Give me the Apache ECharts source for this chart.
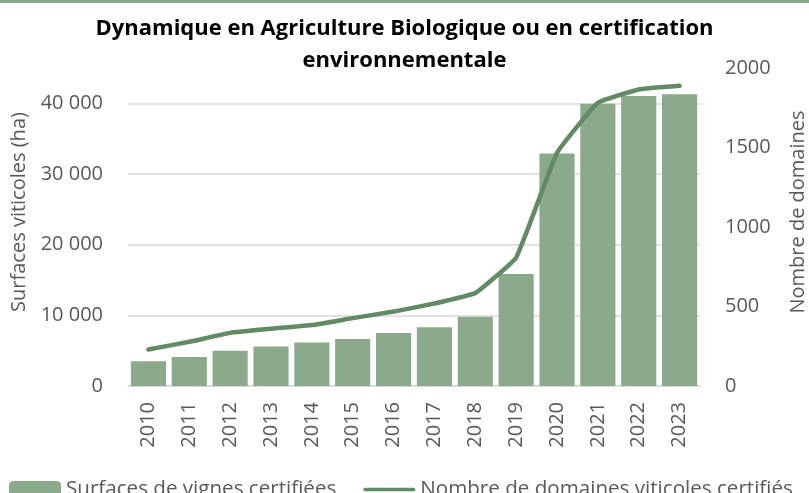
<!DOCTYPE html>
<html>
<head>
<meta charset="utf-8">
<script src="https://cdn.jsdelivr.net/npm/echarts@6/dist/echarts.min.js"></script>
<style>
html,body{margin:0;padding:0;background:#fff;}
#main{width:809px;height:493px;}
</style>
</head>
<body>
<div id="main"></div>
<script>
const years = ['2010','2011','2012','2013','2014','2015','2016','2017','2018','2019','2020','2021','2022','2023'];
const surfaces = [3500, 4100, 5000, 5600, 6150, 6650, 7500, 8300, 9800, 15850, 32900, 39950, 41050, 41300];
const domaines = [230, 278, 334, 360, 383, 427, 468, 519, 585, 808, 1466, 1781, 1865, 1888];
const leftTicks = {min: 0, max: 45000, interval: 10000};
const rightTicks = {min: 0, max: 2000, interval: 500};

const FONT = '"Open Sans", sans-serif';
const GREY = '#595959';
const LINE_ICON = 'path://M2,0 L56,0 A2,2 0 0 1 56,4 L2,4 A2,2 0 0 1 2,0 Z';
const chart = echarts.init(document.getElementById('main'));
chart.setOption({
  animation: false,
  graphic: [{type: 'rect', left: 0, top: 0, shape: {width: 809, height: 3}, style: {fill: '#8BA98B'}}],
  title: {
    text: 'Dynamique en Agriculture Biologique ou en certification\nenvironnementale',
    left: 'center',
    top: 8,
    textStyle: {fontFamily: FONT, fontWeight: 'bold', fontSize: 22, lineHeight: 32, color: '#000'}
  },
  legend: {
    left: 9, top: 479, padding: 0, itemWidth: 52, itemHeight: 17, itemGap: 27,
    textStyle: {fontFamily: FONT, fontSize: 20.6, color: GREY},
    data: [{name: 'Surfaces de vignes certifiées'},
           {name: 'Nombre de domaines viticoles certifiés', icon: LINE_ICON, itemStyle: {color: '#628A64'}}]
  },
  grid: {left: 128, right: 109, top: 68, bottom: 107, outerBoundsMode: 'none', containLabel: false},
  xAxis: {
    type: 'category', data: years,
    axisLine: {lineStyle: {color: '#D9D9D9', width: 1.5}},
    axisTick: {show: false},
    axisLabel: {rotate: 90, margin: 16, fontFamily: FONT, fontSize: 20, color: GREY}
  },
  yAxis: [{
    type: 'value', min: leftTicks.min, max: leftTicks.max, interval: leftTicks.interval,
    name: 'Surfaces viticoles (ha)', nameLocation: 'middle', nameGap: 98,
    nameTextStyle: {fontFamily: FONT, fontSize: 20, color: GREY, padding: [0,0,0,30]},
    axisLine: {show: false}, axisTick: {show: false},
    axisLabel: {showMaxLabel: false, margin: 25, fontFamily: FONT, fontSize: 20, color: GREY,
      formatter: v => String(v).replace(/\B(?=(\d{3})+(?!\d))/g, ' ')},
    splitLine: {showMaxLine: false, lineStyle: {color: '#D9D9D9', width: 1.5}}
  }, {
    type: 'value', min: rightTicks.min, max: rightTicks.max, interval: rightTicks.interval,
    name: 'Nombre de domaines', nameLocation: 'middle', nameGap: 88,
    nameTextStyle: {fontFamily: FONT, fontSize: 20, color: GREY, padding: [0,0,0,30]},
    axisLine: {show: false}, axisTick: {show: false},
    axisLabel: {margin: 25, fontFamily: FONT, fontSize: 20, color: GREY, formatter: v => String(v)},
    splitLine: {show: false}
  }],
  series: [{
    name: 'Surfaces de vignes certifiées', type: 'bar', data: surfaces, yAxisIndex: 0,
    barCategoryGap: '14%', itemStyle: {color: '#8BA98B'}
  }, {
    name: 'Nombre de domaines viticoles certifiés', type: 'line', data: domaines, yAxisIndex: 1,
    symbol: 'none', smooth: 0.1, lineStyle: {color: '#628A64', width: 4.5, cap: 'round'},
    itemStyle: {color: '#628A64'}
  }]
});
</script>
</body>
</html>
